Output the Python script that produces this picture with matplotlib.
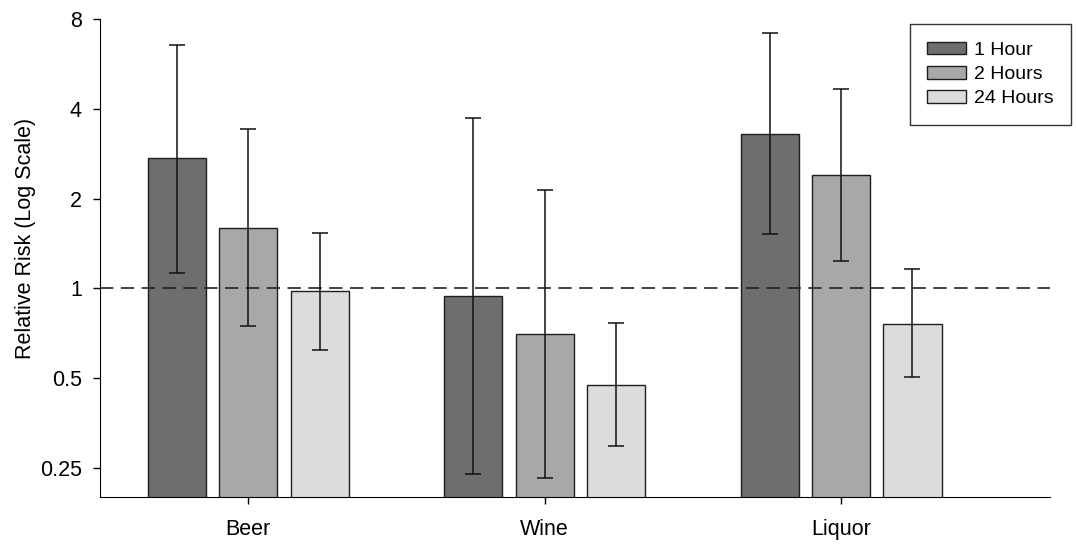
import numpy as np
import matplotlib
matplotlib.use("Agg")
import matplotlib.pyplot as plt
from matplotlib.ticker import FixedLocator, FixedFormatter, NullLocator

plt.rcParams['font.family'] = ['Liberation Sans', 'DejaVu Sans']

categories = ["Beer", "Wine", "Liquor"]
series = ["1 Hour", "2 Hours", "24 Hours"]

# relative risk and 95% CI bounds, one list per series (Beer, Wine, Liquor)
rr_1h = [2.74, 0.94, 3.30]
lo_1h = [1.13, 0.239, 1.52]
hi_1h = [6.56, 3.74, 7.16]

rr_2h = [1.60, 0.706, 2.40]
lo_2h = [0.751, 0.232, 1.24]
hi_2h = [3.41, 2.14, 4.65]

rr_24h = [0.977, 0.475, 0.763]
lo_24h = [0.621, 0.296, 0.503]
hi_24h = [1.536, 0.767, 1.16]

yticks = [0.25, 0.5, 1, 2, 4, 8]
ytick_labels = ["0.25", "0.5", "1", "2", "4", "8"]

colors = ["#6e6e6e", "#a8a8a8", "#dcdcdc"]

fig = plt.figure(figsize=(10.76, 5.44), dpi=100)
ax = fig.add_axes([100 / 1076, 47 / 544, 950 / 1076, 478 / 544])

x = np.arange(len(categories))
width = 0.196
step = 0.241
data = [(rr_1h, lo_1h, hi_1h), (rr_2h, lo_2h, hi_2h), (rr_24h, lo_24h, hi_24h)]

for i, (rr, lo, hi) in enumerate(data):
    rr = np.array(rr)
    pos = x + (i - 1) * step
    ax.bar(pos, rr, width=width, color=colors[i],
           edgecolor="#1e1e1e", linewidth=1.0, label=series[i], zorder=2)
    err = np.vstack([rr - np.array(lo), np.array(hi) - rr])
    ax.errorbar(pos, rr, yerr=err, fmt="none", ecolor="#111111",
                elinewidth=1.1, capsize=5.5, capthick=1.1, zorder=4)

ax.axhline(1, color="#222222", linewidth=1.2, dashes=(8, 4.5), zorder=3)

ax.set_yscale("log", base=2)
ax.set_ylim(0.2, 8)
ax.set_xlim(-0.5, 2.705)
ax.yaxis.set_major_locator(FixedLocator(yticks))
ax.yaxis.set_major_formatter(FixedFormatter(ytick_labels))
ax.yaxis.set_minor_locator(NullLocator())
ax.set_xticks(x)
ax.set_xticklabels(categories)

ax.spines["top"].set_visible(False)
ax.spines["right"].set_visible(False)
ax.tick_params(axis="both", labelsize=15.5, direction="out", length=5, width=1)
ax.tick_params(axis="x", pad=11)
ax.tick_params(axis="y", pad=8)
ax.set_ylabel("Relative Risk (Log Scale)", fontsize=15.5)
ax.yaxis.set_label_coords(-0.067, 0.54)

leg = ax.legend(loc="upper right", bbox_to_anchor=(1071 / 1076, 1 - 24 / 544),
                bbox_transform=fig.transFigure, fontsize=14, frameon=True,
                fancybox=False, edgecolor="black", handlelength=2.0,
                handleheight=0.65, labelspacing=0.35, borderpad=0.9,
                handletextpad=0.4, borderaxespad=0)
leg.get_frame().set_linewidth(1.0)

fig.savefig("out.png", dpi=100)
